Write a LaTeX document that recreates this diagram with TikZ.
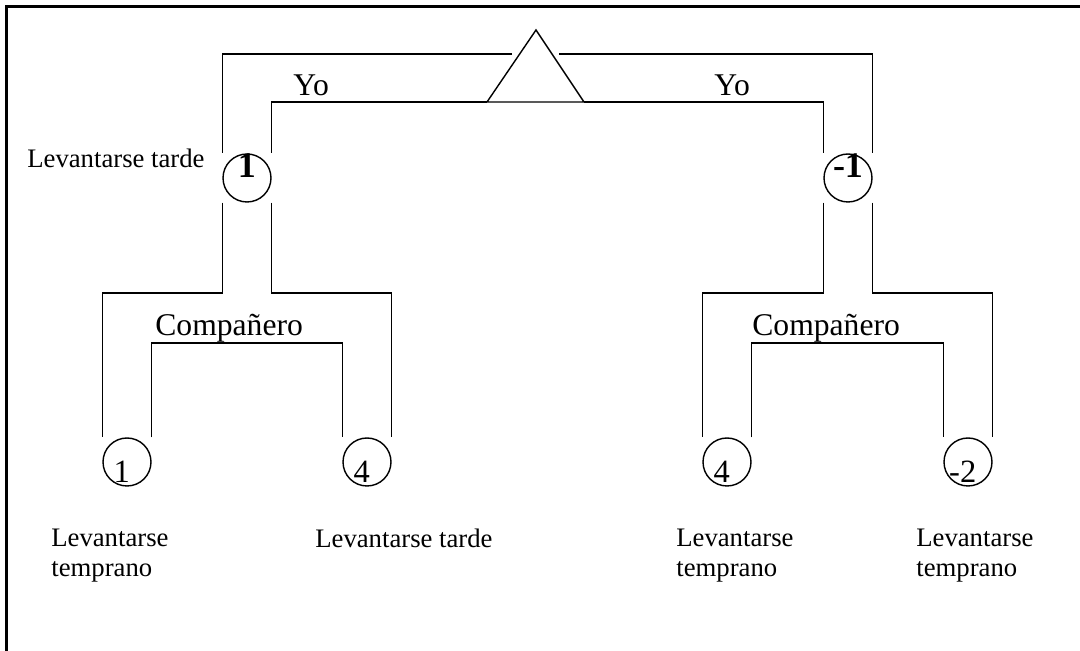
\documentclass[tikz,border=0pt]{standalone}
\usepackage{fontspec}
\setmainfont{Liberation Serif}
\usepackage{tikz}
\usetikzlibrary{calc,positioning}
\newcommand{\payoff}[1]{\makebox[0pt]{#1\kern6pt}}
\tikzset{
  tree/.style={line width=0.8pt, line cap=butt},
  frame/.style={line width=1.2pt},
  dnode/.style={circle, draw, line width=0.8pt, minimum size=0.96cm, inner sep=0pt,
    font=\fontsize{20.5}{20.5}\selectfont\bfseries, text height=8pt, text depth=8pt},
  leaf/.style={circle, draw, line width=0.8pt, minimum size=0.96cm, inner sep=0pt,
    font=\fontsize{18.5}{18.5}\selectfont, text height=23pt, text depth=0pt},
  player/.style={anchor=base west, inner sep=0pt, font=\fontsize{18}{20}\selectfont},
  act/.style={inner sep=0pt, align=left, font=\fontsize{15.2}{17}\selectfont},
}
\begin{document}
\begin{tikzpicture}[x=0.02cm, y=-0.02cm]
  \useasboundingbox (0,0) rectangle (1080,651);
  \draw[frame] (1080,6.5) -- (6.5,6.5) -- (6.5,651);

  % --- Root: triangle and the two branches of Yo ---
  \coordinate (apex) at (536,30);
  \coordinate (baseL) at (487,102);
  \coordinate (baseR) at (584,102);
  \coordinate (outL) at (512,54);
  \coordinate (outR) at (559,54);
  \coordinate (split) at (0,293);
  \coordinate (sub) at (0,343);
  \draw[tree] (baseL) -- (apex) -- (baseR) -- cycle;

  \node[dnode] (L) at (247,178) {1};
  \node[dnode] (R) at (848,178) {-1};

  \draw[tree] (outL) -| (L.west |- L.north);
  \draw[tree] (baseL) -| (L.east |- L.north);
  \draw[tree] (outR) -| (R.east |- R.north);
  \draw[tree] (baseR) -| (R.west |- R.north);

  \node[player] (yoL) at (293,96) {Yo};
  \node[player] (yoR) at (714,96) {Yo};
  \node[act, anchor=base west] (tardeL) at (27,168) {Levantarse tarde};

  % --- Second level: Companero ---
  \node[leaf] (LL) at (127,462) {\payoff{1}};
  \node[leaf] (LR) at (367,462) {\payoff{4}};
  \node[leaf] (RL) at (727,462) {\payoff{4}};
  \node[leaf] (RR) at (968,462) {\payoff{-2}};

  % left subtree
  \draw[tree] (L.west |- L.south) -- (L.west |- split) -| (LL.west |- LL.north);
  \draw[tree] (L.east |- L.south) -- (L.east |- split) -| (LR.east |- LR.north);
  \draw[tree] (LL.east |- LL.north) |- (LR.west |- sub) -- (LR.west |- LR.north);

  % right subtree
  \draw[tree] (R.west |- R.south) -- (R.west |- split) -| (RL.west |- RL.north);
  \draw[tree] (R.east |- R.south) -- (R.east |- split) -| (RR.east |- RR.north);
  \draw[tree] (RL.east |- RL.north) |- (RR.west |- sub) -- (RR.west |- RR.north);

  \node[player] (compL) at (155,336) {Compañero};
  \node[player] (compR) at (752,336) {Compañero};

  % action labels under the leaves
  \node[act, anchor=north west] (aLL) at (51,529) {Levantarse\\temprano};
  \node[act, anchor=base west] (aLR) at (315,548) {Levantarse tarde};
  \node[act, anchor=north west] (aRL) at (676,529) {Levantarse\\temprano};
  \node[act, anchor=north west] (aRR) at (916,529) {Levantarse\\temprano};
\end{tikzpicture}
\end{document}
